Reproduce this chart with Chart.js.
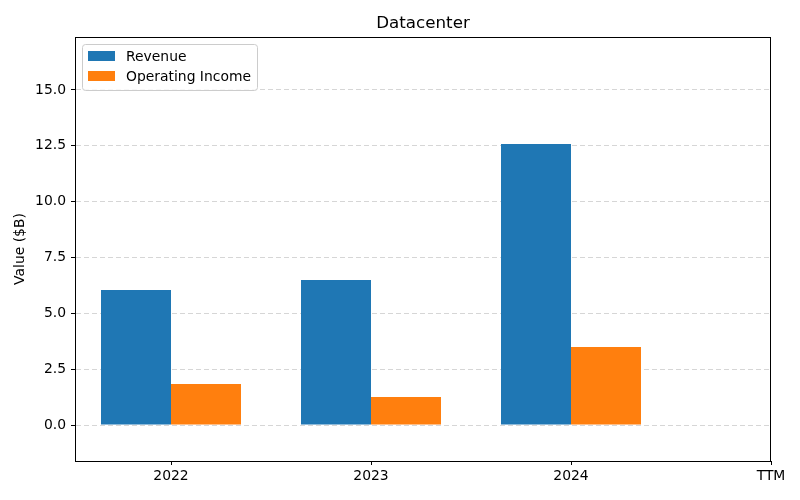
<!DOCTYPE html>
<html>
<head>
<meta charset="utf-8">
<script src="https://cdn.jsdelivr.net/npm/chart.js@4"></script>
<style>
  body { margin: 0; background: #fff; }
  #wrap { width: 800px; height: 500px; }
</style>
</head>
<body>
<div id="wrap"><canvas id="chart" width="800" height="500"></canvas></div>
<script>
const categories = ['2022', '2023', '2024', 'TTM'];
const revenue = [6.05, 6.49, 12.58, null];
const operatingIncome = [1.84, 1.25, 3.49, null];
const yTicks = [0, 2.5, 5, 7.5, 10, 12.5, 15];
const chartTitle = 'Datacenter';

const FONT = 'DejaVu Sans';

// frame, title over the plot area and a legend box inside it, matplotlib style
const framePlugin = {
  id: 'frame',
  afterDraw(chart) {
    const { ctx, chartArea: a } = chart;
    ctx.save();
    ctx.setLineDash([]);
    ctx.strokeStyle = '#000';
    ctx.lineWidth = 1;
    ctx.strokeRect(a.left + 0.5, a.top + 0.5, a.right - a.left - 1, a.bottom - a.top);

    ctx.fillStyle = '#000';
    ctx.font = '16.7px "' + FONT + '"';
    ctx.textAlign = 'center';
    ctx.textBaseline = 'middle';
    ctx.fillText(chartTitle, (a.left + a.right) / 2, a.top - 13);

    // legend
    const x = a.left + 7, y = a.top + 7, w = 175, h = 46;
    ctx.fillStyle = 'rgba(255,255,255,0.8)';
    ctx.strokeStyle = '#cccccc';
    ctx.beginPath();
    ctx.roundRect(x + 0.5, y + 0.5, w, h, 3);
    ctx.fill();
    ctx.stroke();
    ctx.font = '13.9px "' + FONT + '"';
    ctx.textAlign = 'left';
    chart.data.datasets.forEach((ds, i) => {
      const cy = y + 12 + i * 20;
      ctx.fillStyle = ds.backgroundColor;
      ctx.fillRect(x + 6, cy - 5, 27, 10);
      ctx.fillStyle = '#000';
      ctx.fillText(ds.label, x + 44, cy + 1);
    });
    ctx.restore();
  }
};

new Chart(document.getElementById('chart'), {
  type: 'bar',
  data: {
    datasets: [
      {
        label: 'Revenue',
        data: revenue.map((v, i) => ({ x: i, y: v })),
        backgroundColor: '#1f77b4'
      },
      {
        label: 'Operating Income',
        data: operatingIncome.map((v, i) => ({ x: i, y: v })),
        backgroundColor: '#ff7f0e'
      }
    ]
  },
  options: {
    responsive: false,
    animation: false,
    layout: { padding: { left: 8, right: 29, top: 37, bottom: 0 } },
    datasets: { bar: { categoryPercentage: 0.7, barPercentage: 1, borderWidth: 0 } },
    plugins: {
      legend: { display: false },
      tooltip: { enabled: false },
      title: { display: false }
    },
    scales: {
      x: {
        type: 'linear',
        min: -0.48,
        max: 3.0,
        offset: false,
        afterBuildTicks: s => { s.ticks = categories.map((_, i) => ({ value: i })); },
        afterFit: s => { s.height = 39; },
        grid: { offset: false, drawOnChartArea: false, tickLength: 4, tickColor: '#000' },
        border: { color: '#000' },
        ticks: {
          color: '#000',
          padding: 3,
          maxRotation: 0,
          font: { family: FONT, size: 13.9 },
          callback: v => categories[v]
        }
      },
      y: {
        min: -1.61,
        max: 17.37,
        afterBuildTicks: s => { s.ticks = yTicks.map(v => ({ value: v })); },
        afterFit: s => { s.width = 67; },
        grid: {
          color: 'rgba(180,180,180,0.55)',
          tickBorderDash: [],
          tickColor: '#000',
          tickLength: 4
        },
        border: { color: '#000', dash: [5, 3] },
        title: {
          display: true,
          text: 'Value ($B)',
          color: '#000',
          font: { family: FONT, size: 13.9 },
          padding: 4
        },
        ticks: {
          color: '#000',
          padding: 5,
          font: { family: FONT, size: 13.9 },
          callback: v => v.toFixed(1)
        }
      }
    }
  },
  plugins: [framePlugin]
});
</script>
</body>
</html>
